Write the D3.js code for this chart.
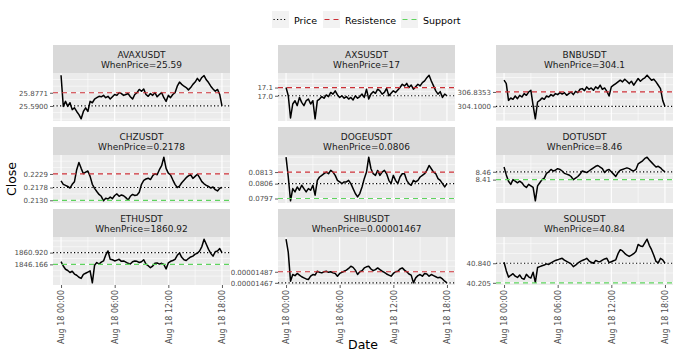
<!DOCTYPE html>
<html><head><meta charset="utf-8">
<script src="https://cdn.jsdelivr.net/npm/d3@7/dist/d3.min.js"></script>
<style>body{margin:0;background:#fff}svg{display:block;font-family:"DejaVu Sans",sans-serif}</style>
</head><body><svg id="c" width="679" height="357"></svg>
<script>
// ---------------- data ----------------
const symbols = ["AVAXUSDT","AXSUSDT","BNBUSDT","CHZUSDT","DOGEUSDT","DOTUSDT","ETHUSDT","SHIBUSDT","SOLUSDT"];
const whenPriceText = ["25.59","17","304.1","0.2178","0.0806","8.46","1860.92","0.00001467","40.84"];
const priceLevel = [25.59, 17.0, 304.1, 0.2178, 0.0806, 8.46, 1860.92, 0.00001467, 40.84];
const resistenceLevel = [25.8771, 17.1, 306.8353, 0.2229, 0.0813, null, null, 0.00001487, null];
const supportLevel = [null, null, null, 0.2130, 0.0797, 8.41, 1846.166, null, 40.205];
// tick labels in order [resistence, price, support] (missing ones skipped)
const yTickLabels = [
  ["25.8771","25.5900"], ["17.1","17.0"], ["306.8353","304.1000"],
  ["0.2229","0.2178","0.2130"], ["0.0813","0.0806","0.0797"], ["8.46","8.41"],
  ["1860.920","1846.166"], ["0.00001487","0.00001467"], ["40.840","40.205"]
];
const xTickLabels = ["Aug 18 00:00","Aug 18 06:00","Aug 18 12:00","Aug 18 18:00"];
const xTickHours = [0, 6, 12, 18];
const startTime = [2023, 7, 18, 0, 0];
const stepMinutes = 15;

const closeAVAX = [26.26,25.58,25.69,25.58,25.66,25.51,25.55,25.47,25.40,25.31,25.47,25.55,25.47,25.69,25.66,25.74,25.77,25.80,25.79,25.82,25.77,25.80,25.74,25.79,25.84,25.82,25.88,25.86,25.82,25.84,25.86,25.79,25.74,25.84,25.88,25.95,25.91,25.96,25.84,25.80,25.86,25.82,25.88,25.79,25.84,25.88,25.77,25.69,25.82,25.77,25.84,25.88,26.02,26.11,26.06,26.02,25.99,25.94,25.99,26.06,26.11,26.19,26.13,26.21,26.25,26.16,26.10,26.02,25.96,25.91,25.95,25.84,25.59];
const closeAXS = [17.10,17.00,16.73,16.90,16.94,16.88,16.98,16.92,16.88,16.94,16.96,16.90,16.94,16.72,16.94,16.96,16.99,16.97,17.01,16.99,17.04,17.02,17.06,17.01,16.98,17.00,16.97,16.99,16.96,16.98,16.95,17.00,16.97,16.99,17.02,16.98,17.08,16.96,17.02,17.05,17.03,17.08,17.06,17.02,17.04,17.09,17.00,17.03,17.06,17.04,17.07,17.10,17.14,17.12,17.15,17.10,17.13,17.08,17.11,17.14,17.12,17.16,17.18,17.22,17.25,17.18,17.12,17.06,17.02,17.05,16.98,17.02,17.00];
const closeBNB = [309.06,308.42,305.24,305.69,305.44,306.07,305.56,306.20,305.88,306.52,306.20,306.83,307.15,304.29,301.75,304.93,305.24,305.69,305.44,306.07,305.88,306.33,306.07,306.52,306.33,306.71,306.45,306.71,306.20,306.52,306.83,306.33,306.96,306.71,307.34,307.47,307.09,307.79,307.34,307.60,307.15,307.79,307.47,308.11,307.34,307.60,306.96,306.07,307.79,308.11,308.42,308.74,309.06,308.74,309.25,308.87,308.42,308.87,308.11,308.74,309.38,308.87,309.25,309.51,310.01,309.51,309.06,309.25,308.74,308.11,307.47,305.24,304.10];
const closeCHZ = [0.2203,0.2190,0.2186,0.2182,0.2176,0.2190,0.2200,0.2245,0.2272,0.2250,0.2230,0.2236,0.2240,0.2220,0.2190,0.2175,0.2163,0.2152,0.2145,0.2128,0.2138,0.2135,0.2142,0.2136,0.2148,0.2154,0.2145,0.2150,0.2147,0.2140,0.2131,0.2145,0.2152,0.2148,0.2150,0.2160,0.2190,0.2205,0.2210,0.2213,0.2208,0.2222,0.2230,0.2226,0.2245,0.2260,0.2292,0.2250,0.2232,0.2225,0.2207,0.2190,0.2178,0.2183,0.2196,0.2205,0.2215,0.2222,0.2226,0.2212,0.2220,0.2228,0.2215,0.2200,0.2192,0.2186,0.2182,0.2176,0.2180,0.2170,0.2165,0.2175,0.2178];
const closeDOGE = [0.0822,0.0810,0.07956,0.0803,0.0801,0.0804,0.0802,0.0805,0.0803,0.0801,0.0803,0.0802,0.0805,0.0799,0.0808,0.0810,0.0811,0.0812,0.0813,0.0812,0.0814,0.0813,0.0811,0.0808,0.0807,0.0806,0.0807,0.0807,0.0808,0.0806,0.0803,0.0800,0.0798,0.0800,0.0804,0.0809,0.0813,0.0822,0.0815,0.0812,0.0811,0.0814,0.0811,0.0813,0.0814,0.0812,0.0808,0.0806,0.0811,0.0808,0.0806,0.0810,0.0812,0.0812,0.0808,0.0806,0.0805,0.0808,0.0807,0.0808,0.0810,0.0811,0.0812,0.0814,0.0817,0.0815,0.0813,0.0812,0.0809,0.0808,0.0806,0.0804,0.0806];
const closeDOT = [8.49,8.44,8.40,8.38,8.41,8.40,8.39,8.40,8.39,8.37,8.36,8.38,8.37,8.36,8.275,8.37,8.39,8.41,8.42,8.45,8.46,8.475,8.465,8.47,8.48,8.475,8.465,8.45,8.445,8.44,8.43,8.41,8.42,8.43,8.445,8.465,8.46,8.455,8.465,8.475,8.485,8.495,8.50,8.49,8.48,8.455,8.47,8.475,8.46,8.445,8.43,8.455,8.47,8.475,8.48,8.485,8.48,8.47,8.465,8.475,8.51,8.52,8.53,8.545,8.553,8.535,8.52,8.505,8.49,8.495,8.485,8.47,8.46];
const closeETH = [1849.5,1844.1,1840.0,1838.5,1836.0,1837.5,1834.0,1832.5,1830.0,1828.5,1833.5,1835.0,1836.5,1838.0,1823.0,1845.0,1848.5,1846.5,1849.0,1850.5,1858.0,1863.0,1852.5,1852.0,1850.5,1851.5,1852.5,1850.0,1850.5,1849.0,1847.5,1846.5,1849.5,1850.5,1850.0,1848.5,1849.5,1852.0,1846.5,1844.5,1842.0,1844.0,1847.5,1848.0,1846.5,1847.5,1846.0,1840.5,1848.0,1850.0,1851.0,1852.5,1857.5,1860.5,1855.0,1852.0,1851.0,1853.5,1855.5,1856.5,1859.0,1860.0,1863.0,1868.5,1877.8,1871.5,1865.0,1860.0,1856.5,1862.0,1863.0,1866.0,1860.92];
const closeSHIB = [0.00001546,0.00001522,0.00001470,0.00001482,0.00001480,0.00001484,0.00001481,0.00001478,0.00001476,0.00001474,0.00001473,0.00001479,0.00001482,0.00001481,0.00001488,0.00001486,0.00001485,0.00001487,0.00001488,0.00001486,0.00001487,0.00001485,0.00001484,0.00001479,0.00001484,0.00001486,0.00001488,0.00001490,0.00001493,0.00001497,0.00001495,0.00001490,0.00001482,0.00001487,0.00001489,0.00001494,0.00001496,0.00001497,0.00001492,0.00001489,0.00001491,0.00001494,0.00001491,0.00001488,0.00001486,0.00001483,0.00001481,0.00001479,0.00001484,0.00001487,0.00001488,0.00001492,0.00001494,0.00001490,0.00001487,0.00001483,0.00001481,0.00001467,0.00001476,0.00001480,0.00001482,0.00001479,0.00001484,0.00001483,0.00001479,0.00001482,0.00001480,0.00001478,0.00001476,0.00001477,0.00001474,0.00001470,0.00001467];
const closeSOL = [40.87,40.60,40.39,40.45,40.50,40.42,40.38,40.46,40.35,40.32,40.48,40.40,40.36,40.55,40.22,40.70,40.73,40.76,40.78,40.82,40.80,40.85,40.89,40.93,40.95,40.98,41.00,40.94,40.90,40.86,40.82,40.73,40.78,40.84,40.89,40.93,40.96,41.00,40.92,40.87,40.84,40.93,40.90,40.89,40.94,40.98,41.00,40.86,40.89,40.92,40.95,41.15,41.28,41.24,41.16,41.10,41.06,41.10,41.15,41.22,41.45,41.40,41.38,41.50,41.62,41.42,41.28,41.10,40.90,40.85,41.00,40.95,40.84];
const closeSeries = [closeAVAX, closeAXS, closeBNB, closeCHZ, closeDOGE, closeDOT, closeETH, closeSHIB, closeSOL];

const legendLabels = ["Price","Resistence","Support"];
const levelColors = ["#000000","#cc2f36","#5fd35f"];
const levelDash = ["1.2 2.3","5 4","5 4"];

// ---------------- layout ----------------
const W = 679, H = 357;
const colX = [53, 278, 496], panelW = 177;
const stripTop = [45, 127, 209], stripH = 28, panelH = 48;

const svg = d3.select("#c");
svg.append("rect").attr("width", W).attr("height", H).attr("fill", "#fff");

const t0 = new Date(...startTime);
const makeTimes = n => d3.range(n).map(i => new Date(t0.getTime() + i * stepMinutes * 60000));
const xTicks = xTickHours.map(h => new Date(t0.getTime() + h * 3600000));
const xMinor = [3, 9, 15].map(h => new Date(t0.getTime() + h * 3600000));
// level order: 0 = resistence, 1 = price, 2 = support  -> legend style index
const styleIdx = [1, 0, 2];

symbols.forEach((sym, k) => {
  const c = k % 3, r = Math.floor(k / 3);
  const px = colX[c], sy = stripTop[r], py = sy + stripH;
  const vals = closeSeries[k];
  const times = makeTimes(vals.length);
  const data = vals.map((v, i) => ({t: times[i], v}));

  const lv = [resistenceLevel[k], priceLevel[k], supportLevel[k]];
  const present = lv.map((v, i) => ({v, i, label: null})).filter(d => d.v != null);
  present.forEach((d, j) => d.label = yTickLabels[k][j]);

  const ext = d3.extent(vals.concat(present.map(d => d.v)));
  const pad = (ext[1] - ext[0]) * 0.05;
  const y = d3.scaleLinear().domain([ext[0] - pad, ext[1] + pad]).range([py + panelH, py]);
  const te = d3.extent(times), span = te[1] - te[0];
  const x = d3.scaleTime().domain([new Date(+te[0] - 0.05 * span), new Date(+te[1] + 0.05 * span)]).range([px, px + panelW]);

  const g = svg.append("g");
  // strip
  g.append("rect").attr("x", px).attr("y", sy).attr("width", panelW).attr("height", stripH).attr("fill", "#d9d9d9");
  g.append("text").attr("x", px + panelW / 2).attr("y", sy + 12.5).attr("text-anchor", "middle")
    .attr("font-size", 9).attr("fill", "#1a1a1a").text(sym);
  g.append("text").attr("x", px + panelW / 2).attr("y", sy + 23).attr("text-anchor", "middle")
    .attr("font-size", 9).attr("fill", "#1a1a1a").text("WhenPrice=" + whenPriceText[k]);
  // panel
  g.append("rect").attr("x", px).attr("y", py).attr("width", panelW).attr("height", panelH).attr("fill", "#ebebeb");

  // minor y breaks (ggplot-like)
  const b = present.map(d => d.v).sort((a, b2) => a - b2);
  const bd = b[1] - b[0];
  const lim = y.domain();
  const bb = b.slice();
  if (lim[0] < bb[0]) bb.unshift(bb[0] - bd);
  if (lim[1] > bb[bb.length - 1]) bb.push(bb[bb.length - 1] + bd);
  const minor = [];
  for (let i = 0; i < bb.length - 1; i++) minor.push((bb[i] + bb[i + 1]) / 2, bb[i]);
  minor.push(bb[bb.length - 1]);
  const minorY = minor.filter(v => v > lim[0] && v < lim[1] && !b.some(m => Math.abs(m - v) < bd * 1e-6));

  g.selectAll(".ymin").data(minorY).join("line")
    .attr("x1", px).attr("x2", px + panelW).attr("y1", d => y(d)).attr("y2", d => y(d))
    .attr("stroke", "#fff").attr("stroke-width", 0.55);
  g.selectAll(".xmin").data(xMinor).join("line")
    .attr("x1", d => x(d)).attr("x2", d => x(d)).attr("y1", py).attr("y2", py + panelH)
    .attr("stroke", "#fff").attr("stroke-width", 0.55);
  g.selectAll(".ymaj").data(b).join("line")
    .attr("x1", px).attr("x2", px + panelW).attr("y1", d => y(d)).attr("y2", d => y(d))
    .attr("stroke", "#fff").attr("stroke-width", 1.1);
  g.selectAll(".xmaj").data(xTicks).join("line")
    .attr("x1", d => x(d)).attr("x2", d => x(d)).attr("y1", py).attr("y2", py + panelH)
    .attr("stroke", "#fff").attr("stroke-width", 1.1);

  // price line
  g.append("path").datum(data)
    .attr("d", d3.line().x(d => x(d.t)).y(d => y(d.v)))
    .attr("fill", "none").attr("stroke", "#000").attr("stroke-width", 1.5).attr("stroke-linejoin", "round");

  // level lines
  present.forEach(d => {
    const s = styleIdx[d.i];
    g.append("line").attr("x1", px).attr("x2", px + panelW).attr("y1", y(d.v)).attr("y2", y(d.v))
      .attr("stroke", levelColors[s]).attr("stroke-width", 1.2).attr("stroke-dasharray", levelDash[s]);
  });

  // y axis
  const ya = d3.axisLeft(y).tickValues(present.map(d => d.v))
    .tickFormat((v, i) => present[i].label).tickSize(3).tickPadding(2);
  const gy = svg.append("g").attr("transform", `translate(${px},0)`).call(ya);
  gy.select(".domain").remove();
  gy.selectAll(".tick line").attr("stroke", "#333").attr("stroke-width", 0.8);
  gy.selectAll(".tick text").attr("fill", "#4d4d4d").attr("font-size", 7)
    .attr("font-family", '"DejaVu Sans",sans-serif');

  // x axis on bottom row
  if (r === 2) {
    const xa = d3.axisBottom(x).tickValues(xTicks).tickFormat((d, i) => xTickLabels[i]).tickSize(3).tickPadding(2);
    const gx = svg.append("g").attr("transform", `translate(0,${py + panelH})`).call(xa);
    gx.select(".domain").remove();
    gx.selectAll(".tick line").attr("stroke", "#333").attr("stroke-width", 0.8);
    gx.selectAll(".tick text").attr("fill", "#4d4d4d").attr("font-size", 8)
      .attr("font-family", '"DejaVu Sans",sans-serif')
      .attr("transform", "rotate(-90)").attr("text-anchor", "end")
      .attr("x", -5).attr("y", 0).attr("dy", "0.35em");
  }
});

// axis titles
svg.append("text").attr("transform", "translate(16,179) rotate(-90)").attr("text-anchor", "middle")
  .attr("font-size", 12.5).attr("fill", "#000").text("Close");
svg.append("text").attr("x", 363).attr("y", 349).attr("text-anchor", "middle")
  .attr("font-size", 12.5).attr("fill", "#000").text("Date");

// legend
const keyX = [272, 323, 401];
legendLabels.forEach((lab, i) => {
  const kx = keyX[i], ky = 11;
  svg.append("rect").attr("x", kx).attr("y", ky).attr("width", 17).attr("height", 17).attr("fill", "#f2f2f2");
  svg.append("line").attr("x1", kx + 1.5).attr("x2", kx + 15.5).attr("y1", ky + 8.5).attr("y2", ky + 8.5)
    .attr("stroke", levelColors[i]).attr("stroke-width", 1.2).attr("stroke-dasharray", levelDash[i]);
  svg.append("text").attr("x", kx + 22).attr("y", ky + 12.5).attr("font-size", 9.5).attr("fill", "#000").text(lab);
});
</script></body></html>
